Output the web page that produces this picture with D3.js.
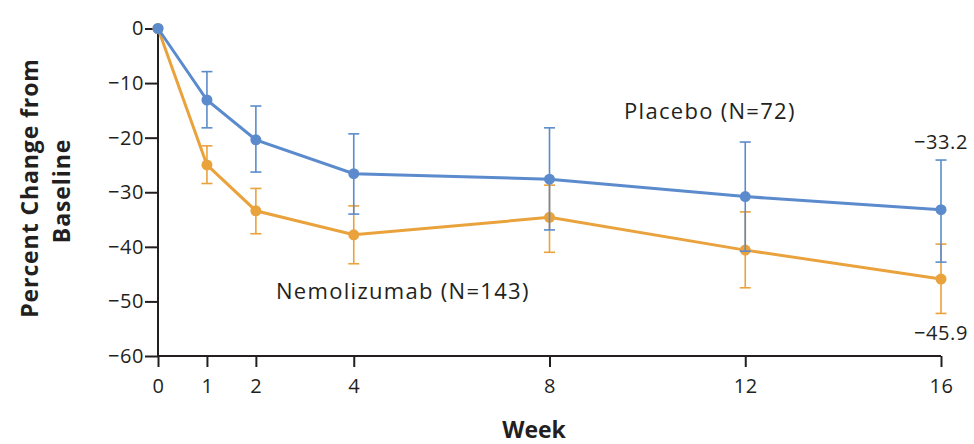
<!DOCTYPE html>
<html>
<head>
<meta charset="utf-8">
<script src="https://cdn.jsdelivr.net/npm/d3@7"></script>
<style>
  body { margin: 0; background: #fff; }
  svg text { font-family: "Open Sans", "Noto Sans", sans-serif; fill: #231f20; }
</style>
</head>
<body>
<svg width="974" height="444"></svg>
<script>
var svg = d3.select('svg');

// data
var weeks = [0, 1, 2, 4, 8, 12, 16];
var yTicks = [0, -10, -20, -30, -40, -50, -60];

var placeboMean = [0, -13.1, -20.4, -26.6, -27.6, -30.8, -33.2];
var placeboLow  = [0, -18.2, -26.3, -34.0, -36.9, -40.8, -42.8];
var placeboHigh = [0, -7.9, -14.2, -19.3, -18.2, -20.8, -24.1];

var nemoMean = [0, -25.0, -33.4, -37.8, -34.6, -40.6, -45.9];
var nemoLow  = [0, -28.4, -37.6, -43.1, -41.0, -47.5, -52.2];
var nemoHigh = [0, -21.5, -29.3, -32.5, -28.7, -33.6, -39.5];

var blue = '#5b8bcd';
var orange = '#e9a23c';

var x = d3.scaleLinear().domain([0, 16]).range([158, 941]);
var y = d3.scaleLinear().domain([0, -60]).range([28.5, 356]);

// axes
var xAxis = d3.axisBottom(x).tickValues(weeks).tickSize(11).tickPadding(12)
  .tickFormat(d3.format('d'));
var yAxis = d3.axisLeft(y).tickValues(yTicks).tickSize(13).tickPadding(1)
  .tickFormat(function(d) { return d === 0 ? '0' : '\u2212' + Math.abs(d); });

var gx = svg.append('g')
  .attr('transform', 'translate(0,' + y(-60) + ')')
  .call(xAxis);
var gy = svg.append('g')
  .attr('transform', 'translate(' + x(0) + ',0)')
  .call(yAxis);

[gx, gy].forEach(function(g) {
  g.select('.domain').attr('stroke', '#231f20').attr('stroke-width', 2);
  g.selectAll('.tick line').attr('stroke', '#231f20').attr('stroke-width', 2);
  g.selectAll('.tick text').style('font-size', '20px')
    .style('letter-spacing', '0.6px').attr('fill', '#231f20');
});
gy.select('.domain').attr('d', 'M0,' + y(0) + 'V' + y(-60));
gx.select('.domain').attr('d', 'M' + x(0) + ',0H' + x(16));

// axis titles
svg.append('text')
  .attr('transform', 'translate(38,188) rotate(-90)')
  .attr('text-anchor', 'middle')
  .style('font-size', '23px').style('font-weight', 'bold')
  .style('letter-spacing', '0.9px')
  .text('Percent Change from');
svg.append('text')
  .attr('transform', 'translate(70,191) rotate(-90)')
  .attr('text-anchor', 'middle')
  .style('font-size', '23px').style('font-weight', 'bold')
  .style('letter-spacing', '0.9px')
  .text('Baseline');
svg.append('text')
  .attr('x', 534).attr('y', 438)
  .attr('text-anchor', 'middle')
  .style('font-size', '23px').style('font-weight', 'bold')
  .text('Week');

function drawSeries(mean, low, high, color) {
  var pts = weeks.map(function(w, i) {
    return {w: w, m: mean[i], lo: low[i], hi: high[i]};
  });
  var g = svg.append('g');
  var eb = g.selectAll('.eb').data(pts.filter(function(d) { return d.w > 0; }))
    .enter().append('g').attr('class', 'eb')
    .attr('stroke', color).attr('stroke-width', 1.6);
  eb.append('line')
    .attr('x1', function(d) { return x(d.w); }).attr('x2', function(d) { return x(d.w); })
    .attr('y1', function(d) { return y(d.lo); }).attr('y2', function(d) { return y(d.hi); });
  eb.append('line')
    .attr('x1', function(d) { return x(d.w) - 5.5; }).attr('x2', function(d) { return x(d.w) + 5.5; })
    .attr('y1', function(d) { return y(d.lo); }).attr('y2', function(d) { return y(d.lo); });
  eb.append('line')
    .attr('x1', function(d) { return x(d.w) - 5.5; }).attr('x2', function(d) { return x(d.w) + 5.5; })
    .attr('y1', function(d) { return y(d.hi); }).attr('y2', function(d) { return y(d.hi); });

  g.append('path')
    .datum(pts)
    .attr('fill', 'none')
    .attr('stroke', color)
    .attr('stroke-width', 3)
    .attr('d', d3.line().x(function(d) { return x(d.w); }).y(function(d) { return y(d.m); }));

  g.selectAll('circle').data(pts).enter().append('circle')
    .attr('cx', function(d) { return x(d.w); })
    .attr('cy', function(d) { return y(d.m); })
    .attr('r', 5.5)
    .attr('fill', color);
}

drawSeries(nemoMean, nemoLow, nemoHigh, orange);
drawSeries(placeboMean, placeboLow, placeboHigh, blue);

// series labels
svg.append('text')
  .attr('x', 624).attr('y', 119)
  .style('font-size', '22px').style('letter-spacing', '1.3px')
  .text('Placebo (N=72)');
svg.append('text')
  .attr('x', 276).attr('y', 299)
  .style('font-size', '22px').style('letter-spacing', '1.3px')
  .text('Nemolizumab (N=143)');
svg.append('text')
  .attr('x', 968).attr('y', 149)
  .attr('text-anchor', 'end')
  .style('font-size', '20px').style('letter-spacing', '0.6px')
  .text('\u2212' + Math.abs(placeboMean[6]).toFixed(1));
svg.append('text')
  .attr('x', 968).attr('y', 340)
  .attr('text-anchor', 'end')
  .style('font-size', '20px').style('letter-spacing', '0.6px')
  .text('\u2212' + Math.abs(nemoMean[6]).toFixed(1));
</script>
</body>
</html>
